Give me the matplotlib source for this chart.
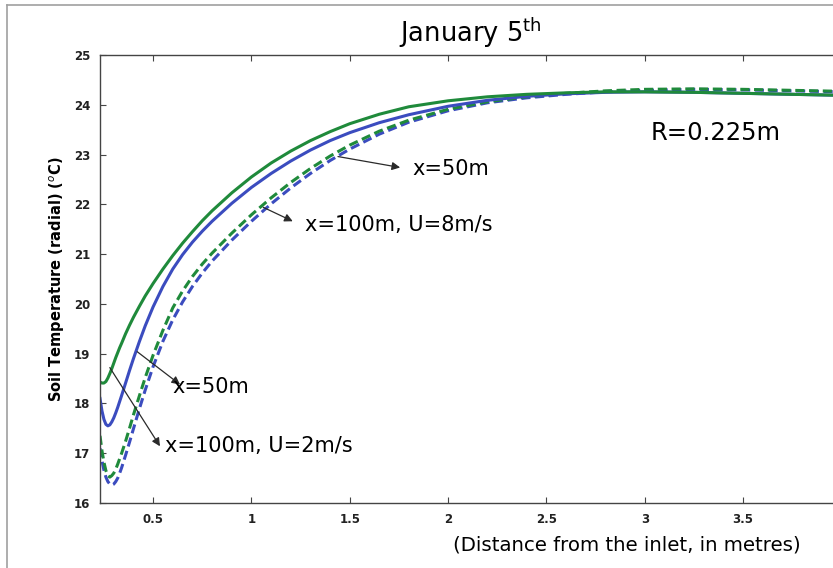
import matplotlib
matplotlib.use('Agg')
import matplotlib.pyplot as plt
from matplotlib.lines import Line2D

# distance from the inlet (m)
dist = [0.23, 0.24, 0.25, 0.26, 0.27, 0.28, 0.29, 0.30, 0.31, 0.32, 0.33, 0.34,
        0.36, 0.38, 0.40, 0.43, 0.46, 0.50, 0.55, 0.60, 0.65, 0.70, 0.75, 0.80,
        0.90, 1.00, 1.10, 1.20, 1.30, 1.40, 1.50, 1.65, 1.80, 2.00, 2.20, 2.40,
        2.60, 2.80, 3.00, 3.25, 3.50, 3.75, 4.00]

# soil temperature (radial), degC
green_solid = [18.43, 18.41, 18.41, 18.44, 18.51, 18.60, 18.70, 18.81, 18.92, 19.02,
               19.12, 19.21, 19.40, 19.57, 19.73, 19.95, 20.16, 20.41, 20.70, 20.97,
               21.22, 21.45, 21.67, 21.87, 22.23, 22.55, 22.83, 23.07, 23.28, 23.46,
               23.62, 23.81, 23.96, 24.08, 24.16, 24.21, 24.24, 24.26, 24.26, 24.25,
               24.23, 24.21, 24.19]
blue_solid = [18.10, 17.85, 17.68, 17.58, 17.55, 17.57, 17.63, 17.71, 17.81, 17.92,
              18.04, 18.16, 18.41, 18.66, 18.90, 19.24, 19.56, 19.94, 20.35, 20.70,
              20.99, 21.24, 21.46, 21.66, 22.02, 22.34, 22.62, 22.87, 23.09, 23.28,
              23.44, 23.64, 23.80, 23.97, 24.09, 24.17, 24.22, 24.25, 24.26, 24.25,
              24.23, 24.21, 24.19]
green_dash = [17.35, 17.05, 16.82, 16.65, 16.55, 16.52, 16.55, 16.60, 16.68, 16.78,
              16.89, 17.00, 17.24, 17.50, 17.77, 18.15, 18.52, 18.97, 19.47, 19.92,
              20.26, 20.55, 20.80, 21.02, 21.42, 21.79, 22.13, 22.44, 22.72, 22.97,
              23.19, 23.47, 23.69, 23.91, 24.06, 24.16, 24.23, 24.28, 24.31, 24.32,
              24.31, 24.29, 24.27]
blue_dash = [17.10, 16.85, 16.66, 16.52, 16.43, 16.38, 16.36, 16.38, 16.43, 16.50,
             16.60, 16.71, 16.96, 17.22, 17.49, 17.89, 18.27, 18.74, 19.25, 19.68,
             20.04, 20.35, 20.62, 20.86, 21.28, 21.66, 22.01, 22.33, 22.62, 22.88,
             23.11, 23.41, 23.65, 23.88, 24.04, 24.14, 24.21, 24.26, 24.29, 24.31,
             24.30, 24.28, 24.26]

xticks = [0.5, 1, 1.5, 2, 2.5, 3, 3.5]
xticklabels = ['0.5', '1', '1.5', '2', '2.5', '3', '3.5']
yticks = list(range(16, 26))

GREEN = '#1f8a3b'
BLUE = '#3b4cbf'


def main():
    fig = plt.figure(figsize=(8.33, 5.68), dpi=100)
    W, H = 833.0, 568.0
    # axes runs past the right edge, like the cropped original
    ax = fig.add_axes([100 / W, 1 - 503 / H, 741.5 / W, 448 / H])

    dash = (0, (3.0, 1.5))
    ax.plot(dist, blue_dash, color=BLUE, lw=2.2, ls=dash)
    ax.plot(dist, green_dash, color=GREEN, lw=2.2, ls=dash)
    ax.plot(dist, blue_solid, color=BLUE, lw=2.2)
    ax.plot(dist, green_solid, color=GREEN, lw=2.2)

    ax.set_xlim(0.23, 4.0)
    ax.set_ylim(16, 25)
    ax.set_xticks(xticks)
    ax.set_xticklabels(xticklabels)
    ax.set_yticks(yticks)
    ax.tick_params(direction='in', top=True, right=True, length=4, width=0.8,
                   color='#444444', labelsize=8.5, pad=7)
    for lab in ax.get_xticklabels() + ax.get_yticklabels():
        lab.set_fontweight('bold')
        lab.set_color('#222222')
    for sp in ax.spines.values():
        sp.set_color('#444444')
        sp.set_linewidth(1.0)

    ax.set_title(r'January 5$^{\rm th}$', fontsize=18.5, pad=9)
    ax.set_ylabel(r'Soil Temperature (radial) ($^o$C)', fontsize=10.5,
                  fontweight='bold', labelpad=5)
    fig.text(627 / W, 1 - 545 / H, '(Distance from the inlet, in metres)',
             fontsize=14.2, ha='center', va='center')

    arrow = dict(arrowstyle='-|>', color='#2a2a2a', lw=0.9, mutation_scale=12,
                 shrinkA=0, shrinkB=0)
    fs = 15
    ax.annotate('', xy=(1.756, 22.74), xytext=(1.44, 22.96), arrowprops=arrow)
    ax.text(1.817, 22.70, 'x=50m', fontsize=fs, va='center')
    ax.annotate('', xy=(1.21, 21.66), xytext=(1.06, 21.94), arrowprops=arrow)
    ax.text(1.273, 21.58, 'x=100m, U=8m/s', fontsize=fs, va='center')
    ax.annotate('', xy=(0.637, 18.38), xytext=(0.419, 19.04), arrowprops=arrow)
    ax.text(0.60, 18.34, 'x=50m', fontsize=fs, va='center')
    ax.annotate('', xy=(0.535, 17.14), xytext=(0.28, 18.72), arrowprops=arrow)
    ax.text(0.56, 17.14, 'x=100m, U=2m/s', fontsize=fs, va='center')
    ax.text(3.027, 23.44, 'R=0.225m', fontsize=17.5, va='center')

    # grey frame of the original screenshot
    fig.add_artist(Line2D([7 / W, 7 / W], [0, 1 - 5 / H], color='#a0a0a0', lw=1.2))
    fig.add_artist(Line2D([7 / W, 1], [1 - 5 / H, 1 - 5 / H], color='#a0a0a0', lw=1.2))

    fig.savefig('out.png', dpi=100)


if __name__ == '__main__':
    main()
